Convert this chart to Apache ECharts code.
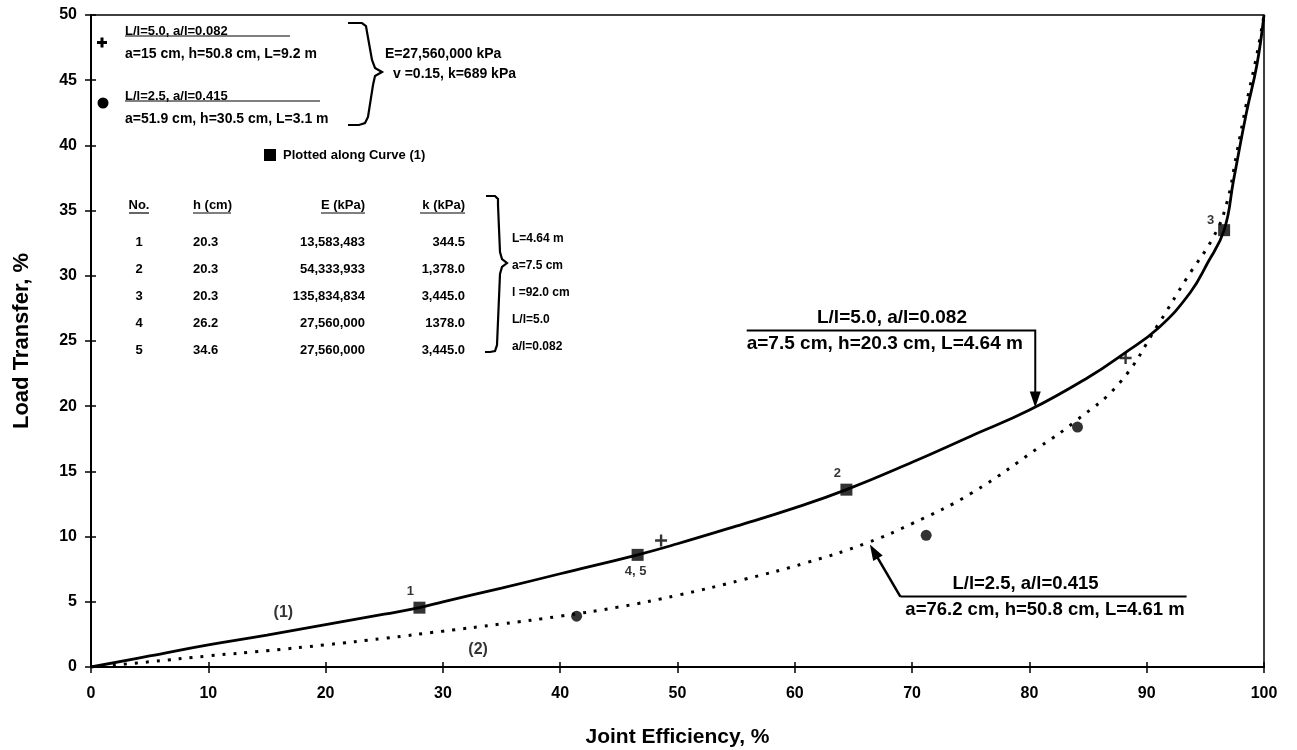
<!DOCTYPE html>
<html><head><meta charset="utf-8">
<script src="https://cdn.jsdelivr.net/npm/echarts@6/dist/echarts.min.js"></script>
<style>html,body{margin:0;padding:0;background:#fff}#c{width:1297px;height:750px}</style>
</head><body><div id="c"></div>
<script>
// ---- data ----
const curve1X = [0, 5, 10, 15, 20, 25, 28, 30, 35, 40, 46.6, 50, 55, 60, 64.4, 70, 75, 80, 85, 88, 91, 93.7, 95.2, 96.6, 97.4, 98.5, 99.4, 100];
const curve1Y = [0, 0.85, 1.7, 2.45, 3.25, 4.05, 4.55, 5.0, 6.05, 7.15, 8.6, 9.45, 10.8, 12.2, 13.6, 15.7, 17.7, 19.7, 22.2, 24.0, 26.0, 28.7, 31.0, 33.5, 37.3, 42.5, 46.2, 50];
const curve2X = [0, 5, 10, 15, 20, 25, 30, 35, 40, 45, 50, 55.6, 61, 66.1, 70, 75, 80.9, 84, 87.7, 91, 93.4, 95.7, 96.8, 97.7, 98.5, 99.4, 100];
const curve2Y = [0, 0.4, 0.85, 1.25, 1.7, 2.2, 2.75, 3.3, 3.9, 4.6, 5.5, 6.7, 8.0, 9.5, 11.0, 13.3, 16.9, 18.9, 21.8, 26.3, 29.8, 33.0, 35.5, 39.5, 43.2, 47.0, 50];
const squareX = [28.0, 46.6, 64.4, 96.6];
const squareY = [4.55, 8.6, 13.6, 33.5];
const squareLabels = ['1', '4, 5', '2', '3'];
const plusX = [48.6, 88.2];
const plusY = [9.7, 23.7];
const circleX = [41.4, 71.2, 84.1];
const circleY = [3.9, 10.1, 18.4];
const curveNames = ['(1)', '(2)'];
const curveNameX = [16.4, 33.0];
const curveNameY = [4.2, 1.3];
const xTickStep = 10, yTickStep = 5;
const tableHeader = ['No.', 'h (cm)', 'E (kPa)', 'k (kPa)'];
const tableNo = ['1', '2', '3', '4', '5'];
const tableH = ['20.3', '20.3', '20.3', '26.2', '34.6'];
const tableE = ['13,583,483', '54,333,933', '135,834,834', '27,560,000', '27,560,000'];
const tableK = ['344.5', '1,378.0', '3,445.0', '1378.0', '3,445.0'];
const tableNotes = ['L=4.64 m', 'a=7.5 cm', 'l =92.0 cm', 'L/l=5.0', 'a/l=0.082'];
const legendPlus = ['L/l=5.0, a/l=0.082', 'a=15 cm, h=50.8 cm, L=9.2 m'];
const legendCircle = ['L/l=2.5, a/l=0.415', 'a=51.9 cm, h=30.5 cm, L=3.1 m'];
const legendCommon = ['E=27,560,000 kPa', 'v =0.15, k=689 kPa'];
const legendSquare = 'Plotted along Curve (1)';
const note1 = ['L/l=5.0, a/l=0.082', 'a=7.5 cm, h=20.3 cm, L=4.64 m'];
const note2 = ['L/l=2.5, a/l=0.415', 'a=76.2 cm, h=50.8 cm, L=4.61 m'];
const arrow1 = {lineX0: 55.9, lineX1: 80.5, lineY: 25.8, tipY: 19.9};
const arrow2 = {tailX: 69.0, lineX1: 93.4, lineY: 5.4, tipX: 66.4, tipY: 9.4};

const FF = '"Liberation Sans", Arial, Helvetica, sans-serif';
const zip = (a, b) => a.map((v, i) => [v, b[i]]);
const plusPath = 'path://M4 0h2v4h4v2h-4v4h-2v-4h-4v-2h4z';

const chart = echarts.init(document.getElementById('c'), null, {renderer: 'canvas'});
const axisCommon = {
  type: 'value', splitLine: {show: false},
  axisLine: {show: true, lineStyle: {color: '#000', width: 2}},
};
const option = {
  animation: false,
  backgroundColor: '#fff',
  grid: {left: 91, right: 33, top: 15, bottom: 83, outerBoundsMode: 'none', containLabel: false,
    show: true, borderColor: '#000', borderWidth: 1.5, backgroundColor: 'transparent'},
  xAxis: [
    Object.assign({}, axisCommon, {min: 0, max: 100, interval: xTickStep,
      axisTick: {show: true, length: 6, lineStyle: {color: '#000', width: 1.5}},
      axisLabel: {color: '#000', fontSize: 16, fontWeight: 'bold', fontFamily: FF, margin: 19},
      name: 'Joint Efficiency, %', nameLocation: 'middle', nameGap: 60,
      nameTextStyle: {color: '#000', fontSize: 21, fontWeight: 'bold', fontFamily: FF}}),
    Object.assign({}, axisCommon, {min: 0, max: 100, interval: xTickStep, position: 'bottom',
      axisTick: {show: true, inside: true, length: 5, lineStyle: {color: '#000', width: 1.5}},
      axisLabel: {show: false}})
  ],
  yAxis: [
    Object.assign({}, axisCommon, {min: 0, max: 50, interval: yTickStep,
      axisTick: {show: true, length: 6, lineStyle: {color: '#000', width: 1.5}},
      axisLabel: {color: '#000', fontSize: 16, fontWeight: 'bold', fontFamily: FF, margin: 14},
      name: 'Load Transfer, %', nameLocation: 'middle', nameGap: 58, nameRotate: 90,
      nameTextStyle: {color: '#000', fontSize: 22, fontWeight: 'bold', fontFamily: FF}}),
    Object.assign({}, axisCommon, {min: 0, max: 50, interval: yTickStep, position: 'left',
      axisTick: {show: true, inside: true, length: 5, lineStyle: {color: '#000', width: 1.5}},
      axisLabel: {show: false}})
  ],
  series: [
    {type: 'line', data: zip(curve1X, curve1Y), smooth: 0.45, showSymbol: false,
      lineStyle: {color: '#000', width: 2.8}, z: 3},
    {type: 'line', data: zip(curve2X, curve2Y), smooth: 0.45, showSymbol: false,
      lineStyle: {color: '#000', width: 3, type: [3, 8]}, z: 3},
    {type: 'scatter', data: zip(squareX, squareY).map((p, i) => ({value: p, label: {
        formatter: squareLabels[i],
        position: i === 1 ? 'bottom' : (i === 3 ? 'left' : 'top'),
        offset: i === 1 ? [-2, 0] : (i === 3 ? [0, -10] : [-9, 0])}})),
      symbol: 'rect', symbolSize: 12, itemStyle: {color: '#000'}, z: 5,
      label: {show: true, color: '#000', fontSize: 13, fontWeight: 'bold', fontFamily: FF, distance: 4}},
    {type: 'scatter', data: zip(plusX, plusY), symbol: plusPath, symbolSize: 12, itemStyle: {color: '#000'}, z: 5},
    {type: 'scatter', data: zip(circleX, circleY), symbol: 'circle', symbolSize: 11, itemStyle: {color: '#000'}, z: 5},
    {type: 'scatter', data: zip(curveNameX, curveNameY).map((p, i) => ({value: p, label: {formatter: curveNames[i]}})),
      symbolSize: 0, label: {show: true, position: 'inside', color: '#000', fontSize: 16, fontWeight: 'bold', fontFamily: FF}}
  ]
};
chart.setOption(option);

// ---- annotations ----
const px = (x, y) => chart.convertToPixel({gridIndex: 0}, [x, y]);
const g = [];
const txt = (x, y, text, size, opts) => g.push({type: 'text', x: x, y: y, z: 10,
  style: {text: text, fill: '#000', fontSize: size, fontWeight: 'bold', fontFamily: FF,
    align: (opts && opts.align) || 'left', verticalAlign: (opts && opts.va) || 'middle'}});
const line = (pts, w) => g.push({type: 'polyline', z: 10, shape: {points: pts}, style: {stroke: '#000', lineWidth: w || 1.5, fill: null}});
const arrowHead = (tip, from, len, half) => {
  const dx = tip[0] - from[0], dy = tip[1] - from[1], d = Math.hypot(dx, dy);
  const ux = dx / d, uy = dy / d;
  const bx = tip[0] - ux * len, by = tip[1] - uy * len;
  g.push({type: 'polygon', z: 10, shape: {points: [tip, [bx - uy * half, by + ux * half], [bx + uy * half, by - ux * half]]}, style: {fill: '#000'}});
};

// top-left legend block
g.push({type: 'rect', z: 10, shape: {x: 97, y: 41, width: 10, height: 3}, style: {fill: '#000'}});
g.push({type: 'rect', z: 10, shape: {x: 100.5, y: 37.5, width: 3, height: 10}, style: {fill: '#000'}});
txt(125, 31, legendPlus[0], 13);
line([[125, 36], [290, 36]], 1.2);
txt(125, 54, legendPlus[1], 14);
g.push({type: 'circle', z: 10, shape: {cx: 103, cy: 103, r: 5.5}, style: {fill: '#000'}});
txt(125, 96, legendCircle[0], 13);
line([[125, 101], [320, 101]], 1.2);
txt(125, 119, legendCircle[1], 14);
line([[348, 23], [362, 23], [366, 26], [367, 32], [372, 60], [375, 68], [382, 72], [375, 76], [373, 85], [368, 117], [365, 123], [359, 125], [348, 125]], 2.2);
txt(385, 54, legendCommon[0], 14);
txt(393, 74, legendCommon[1], 14);
g.push({type: 'rect', z: 10, shape: {x: 264, y: 149, width: 12, height: 12}, style: {fill: '#000'}});
txt(283, 155, legendSquare, 13);

// table
const colX = [139, 193, 365, 465];
const colAlign = ['center', 'left', 'right', 'right'];
const headW = [20, 38, 44, 45];
const headY = 205, rowY0 = 242, rowDy = 27;
tableHeader.forEach((h, i) => {
  txt(colX[i], headY, h, 13, {align: colAlign[i]});
  const x0 = colAlign[i] === 'left' ? colX[i] : (colAlign[i] === 'right' ? colX[i] - headW[i] : colX[i] - headW[i] / 2);
  line([[x0, headY + 8], [x0 + headW[i], headY + 8]], 1.2);
});
const cols = [tableNo, tableH, tableE, tableK];
cols.forEach((col, c) => col.forEach((v, r) => txt(colX[c], rowY0 + r * rowDy, v, 13, {align: colAlign[c]})));
tableNotes.forEach((v, r) => txt(512, rowY0 + r * rowDy - 3, v, 12));
line([[486, 196], [495, 196], [498, 199], [498, 205], [500, 252], [502, 259], [507, 263], [502, 267], [500, 274], [497, 345], [495, 351], [490, 352], [485, 352]], 2.2);

// arrow 1 (curve 1 note)
const a1s = px(arrow1.lineX0, arrow1.lineY), a1c = px(arrow1.lineX1, arrow1.lineY), a1t = px(arrow1.lineX1, arrow1.tipY);
line([a1s, a1c, [a1t[0], a1t[1] - 14]], 2);
arrowHead(a1t, a1c, 16, 5.5);
txt((a1s[0] + a1c[0]) / 2 + 1, a1s[1] - 3, note1[0], 19, {align: 'center', va: 'bottom'});
txt(a1s[0], a1s[1] + 4, note1[1], 19, {va: 'top'});

// arrow 2 (curve 2 note)
const a2s = px(arrow2.tailX, arrow2.lineY), a2e = px(arrow2.lineX1, arrow2.lineY), a2t = px(arrow2.tipX, arrow2.tipY);
line([a2e, a2s], 2);
const dx2 = a2t[0] - a2s[0], dy2 = a2t[1] - a2s[1], d2 = Math.hypot(dx2, dy2);
line([a2s, [a2t[0] - dx2 / d2 * 14, a2t[1] - dy2 / d2 * 14]], 2.5);
arrowHead(a2t, a2s, 16, 5.5);
txt((a2s[0] + a2e[0]) / 2 - 18, a2s[1] - 3, note2[0], 18.5, {align: 'center', va: 'bottom'});
txt(a2s[0] + 5, a2s[1] + 4, note2[1], 18.5, {va: 'top'});

chart.setOption({graphic: g});
</script></body></html>
